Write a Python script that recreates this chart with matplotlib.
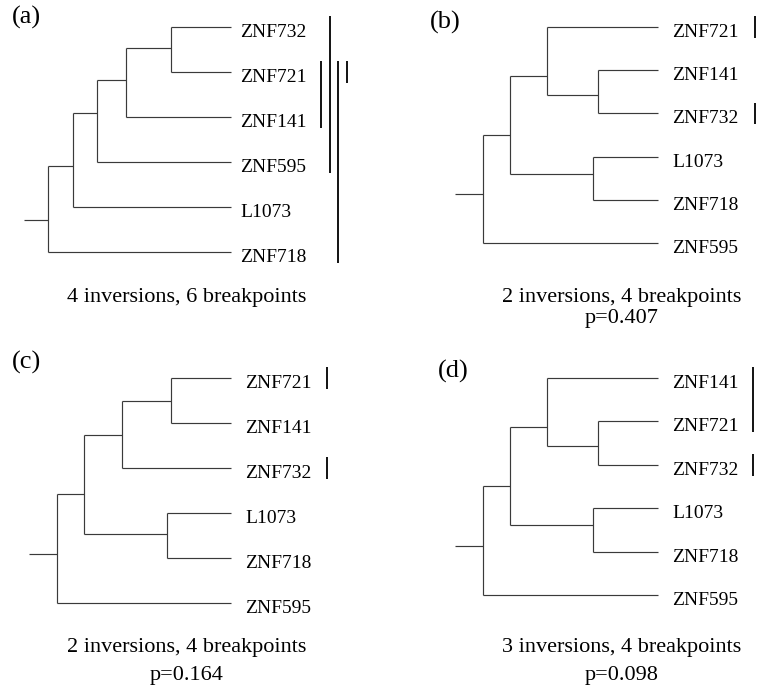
import matplotlib
matplotlib.use("Agg")
import matplotlib.pyplot as plt
from matplotlib import transforms

plt.rcParams["font.family"] = ["Liberation Serif", "DejaVu Serif"]

W, H = 757, 688

# Trees: internal node = (depth, stem row, children); leaf = name.
# Depth 0 is the root, 1 is the tip; rows are leaf indices from the top.
tree_a = (0.0, 4.29, [
    (0.137, 3.09, [
        (0.268, 1.91, [
            (0.426, 1.18, [
                (0.672, 0.47, ["ZNF732", "ZNF721"]),
                "ZNF141"]),
            "ZNF595"]),
        "L1073"]),
    "ZNF718"])

tree_b = (0.0, 3.87, [
    (0.154, 2.50, [
        (0.366, 1.13, ["ZNF721", (0.657, 1.57, ["ZNF141", "ZNF732"])]),
        (0.629, 3.40, ["L1073", "ZNF718"])]),
    "ZNF595"])

tree_c = (0.0, 3.91, [
    (0.155, 2.58, [
        (0.374, 1.27, [(0.655, 0.51, ["ZNF721", "ZNF141"]), "ZNF732"]),
        (0.632, 3.47, ["L1073", "ZNF718"])]),
    "ZNF595"])

tree_d = (0.0, 3.87, [
    (0.154, 2.49, [
        (0.366, 1.13, ["ZNF141", (0.657, 1.57, ["ZNF721", "ZNF732"])]),
        (0.629, 3.39, ["L1073", "ZNF718"])]),
    "ZNF595"])

# breakpoint bars: (column, first leaf row, last leaf row)
bars_a = [(0, 1, 2), (1, 0, 3), (2, 1, 5), (3, 1, 1)]
bars_b = [(0, 0, 0), (0, 2, 2)]
bars_c = [(0, 0, 0), (0, 2, 2)]
bars_d = [(0, 0, 1), (0, 2, 2)]

panel_tags = ["(a)", "(b)", "(c)", "(d)"]
inversions = [4, 2, 2, 3]
breakpoints = [6, 4, 4, 4]
p_values = [None, "0.407", "0.164", "0.098"]

# panel geometry in pixels: root x, tip x, first row y, last row y
geom = [
    (48, 231, 27, 252),
    (483, 658, 27, 243),
    (57, 231, 378, 603),
    (483, 658, 378, 595),
]
stub_len = [0.13, 0.16, 0.16, 0.16]
label_pad = [9, 14, 14, 14]
bar_x0 = [1.492, 1.554, 1.552, 1.543]
bar_gap = 0.047
tag_pos = [(12, 24), (430, 29), (12, 369), (438, 378)]
caption_pos = [(187, 302, 0), (622, 302, 323), (187, 652, 680), (622, 652, 680)]

TREE_C = "#3a3a3a"

fig = plt.figure(figsize=(W / 100, H / 100), dpi=100)


def draw_node(ax, node, counter):
    """Draw a subtree, return the row its stem attaches at."""
    if isinstance(node, str):
        row = counter[0]
        counter[0] += 1
        return row, 1.0, node
    depth, stem, kids = node
    rows = []
    for kid in kids:
        r, kid_depth, _ = draw_node(ax, kid, counter)
        rows.append(r)
        ax.plot([depth, kid_depth], [r, r], color=TREE_C, lw=0.85,
                solid_capstyle="butt", clip_on=False)
        if isinstance(kid, str):
            ax.leaves.append((kid, r))
    ax.plot([depth, depth], [min(rows), max(rows)], color=TREE_C, lw=0.85,
            solid_capstyle="butt", clip_on=False)
    return stem, depth, None


trees = [tree_a, tree_b, tree_c, tree_d]
bars = [bars_a, bars_b, bars_c, bars_d]

for i, tree in enumerate(trees):
    x0, x1, y0, y1 = geom[i]
    ax = fig.add_axes([x0 / W, 1 - y1 / H, (x1 - x0) / W, (y1 - y0) / H])
    ax.set_xlim(0, 1)
    ax.set_ylim(5, 0)
    ax.axis("off")
    ax.leaves = []

    root_row, _, _ = draw_node(ax, tree, [0])
    ax.plot([-stub_len[i], 0], [root_row, root_row], color=TREE_C, lw=0.85,
            solid_capstyle="butt", clip_on=False)

    shifted = transforms.offset_copy(ax.transData, fig=fig, x=label_pad[i],
                                     y=-10, units="dots")
    for name, row in ax.leaves:
        ax.text(1.0, row, name, transform=shifted, fontsize=14,
                ha="left", va="baseline")

    for col, first, last in bars[i]:
        bx = bar_x0[i] + col * bar_gap
        ax.plot([bx, bx], [first - 0.25, last + 0.25], color="black",
                lw=1.3, solid_capstyle="butt", clip_on=False)

    tx, ty = tag_pos[i]
    fig.text(tx / W, 1 - ty / H, panel_tags[i], fontsize=19,
             ha="left", va="baseline")

    cx, cy, py = caption_pos[i]
    fig.text(cx / W, 1 - cy / H,
             f"{inversions[i]} inversions, {breakpoints[i]} breakpoints",
             fontsize=16, ha="center", va="baseline")
    if p_values[i] is not None:
        fig.text(cx / W, 1 - py / H, f"p={p_values[i]}", fontsize=16,
                 ha="center", va="baseline")

fig.savefig("out.png", dpi=100, facecolor="white")
